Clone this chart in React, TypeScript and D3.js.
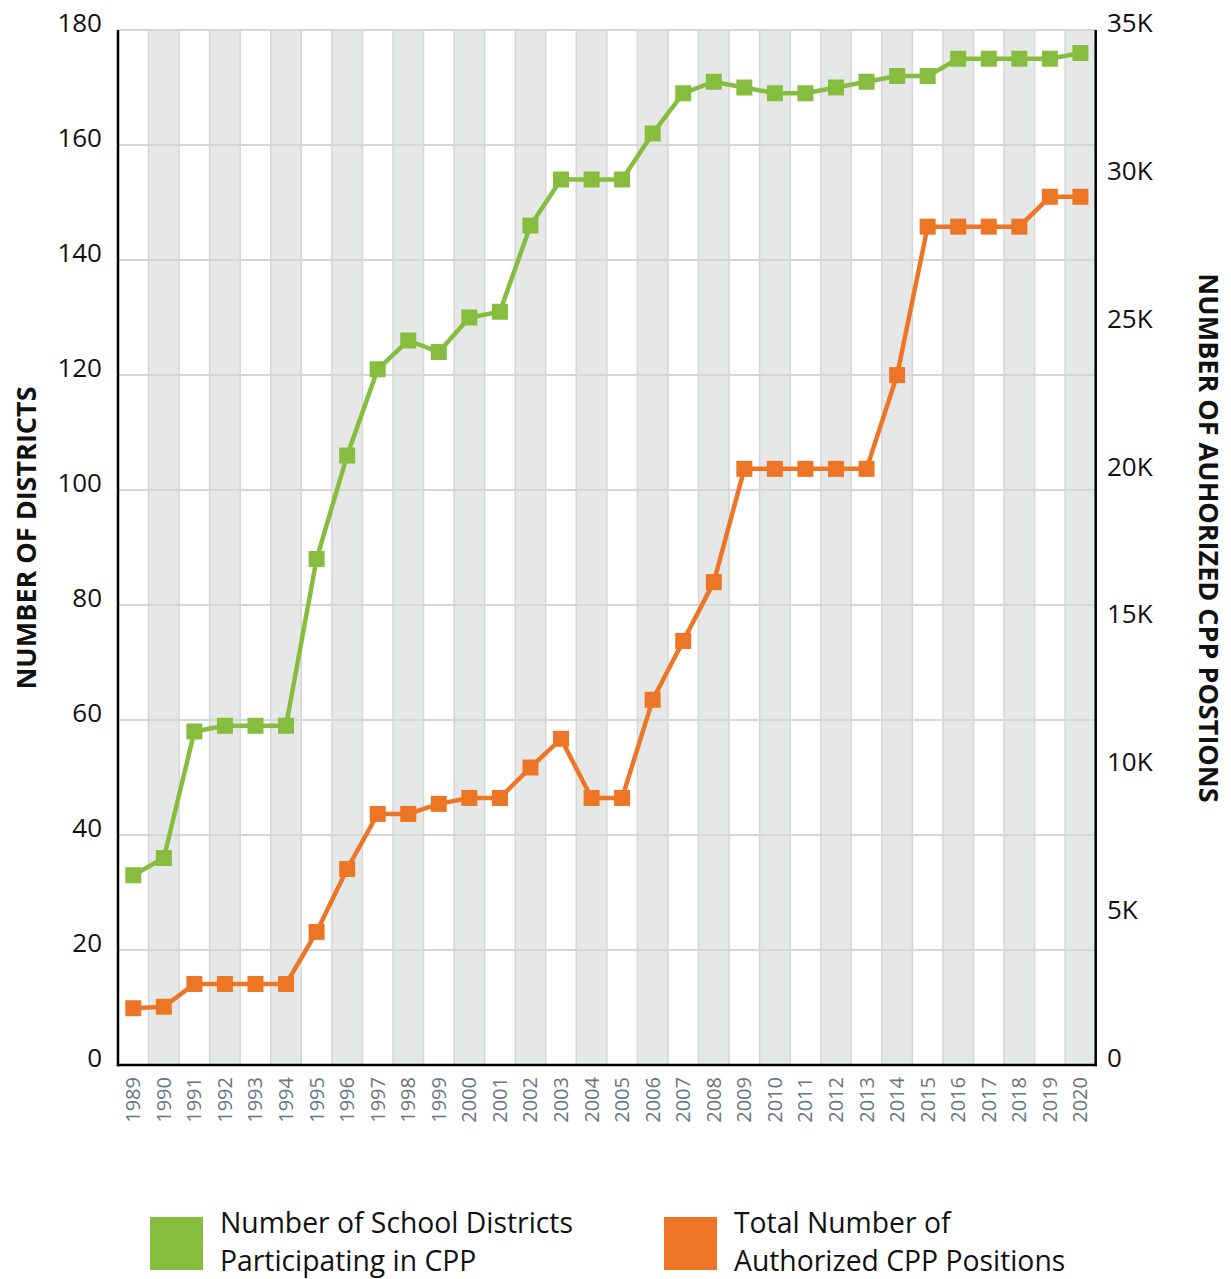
import React from "react";
import * as d3 from "d3";

const years = d3.range(1989, 2021).map(String);
const districts = [33, 36, 58, 59, 59, 59, 88, 106, 121, 126, 124, 130, 131, 146, 154, 154, 154, 162, 169, 171, 170, 169, 169, 170, 171, 172, 172, 175, 175, 175, 175, 176];
const positions = [1920, 1970, 2740, 2740, 2740, 2740, 4500, 6630, 8490, 8490, 8830, 9030, 9030, 10060, 11030, 9030, 9030, 12350, 14340, 16330, 20160, 20160, 20160, 20160, 20160, 23330, 28350, 28350, 28350, 28350, 29360, 29360];
const leftTicks = [0, 20, 40, 60, 80, 100, 120, 140, 160, 180];
const rightTicks = [0, 5000, 10000, 15000, 20000, 25000, 30000, 35000];
const rightTickLabels = ["0", "5K", "10K", "15K", "20K", "25K", "30K", "35K"];
const leftTitle = "NUMBER OF DISTRICTS";
const rightTitle = "NUMBER OF AUHORIZED CPP POSTIONS";
const legendGreen = ["Number of School Districts", "Participating in CPP"];
const legendOrange = ["Total Number of", "Authorized CPP Positions"];

const GREEN = "#86bd3f";
const ORANGE = "#ec7625";
const BAND = "#e6e8e7";
const GRID = "#d5d6d6";
const FONT = "'Open Sans', 'Noto Sans', sans-serif";

export default function App() {
  const left = 118, right = 1095.7, top = 30, bottom = 1065;
  const x = d3.scaleBand().domain(years).range([left, right]).padding(0);
  const yL = d3.scaleLinear().domain([0, 180]).range([bottom, top]);
  const yR = d3.scaleLinear().domain([0, 35000]).range([bottom, top]);
  const cx = (y: string) => (x(y) as number) + x.bandwidth() / 2;

  const lineG = d3.line<number>().x((_, i) => cx(years[i])).y((d) => yL(d));
  const lineO = d3.line<number>().x((_, i) => cx(years[i])).y((d) => yR(d));
  const ms = 16;

  return (
    <svg width={1231} height={1279} style={{ position: "absolute", left: 0, top: 0, background: "#fff" }} fontFamily={FONT}>
      {years.map((y, i) =>
        i % 2 === 1 ? (
          <rect key={"b" + y} x={x(y)} y={top} width={x.bandwidth()} height={bottom - top} fill={BAND} />
        ) : null
      )}
      {years.slice(1).map((y) => (
        <line key={"v" + y} x1={x(y)} x2={x(y)} y1={top} y2={bottom} stroke={GRID} strokeWidth={1.5} />
      ))}
      {leftTicks.slice(1).map((t) => (
        <line key={"h" + t} x1={left} x2={right} y1={yL(t)} y2={yL(t)} stroke={GRID} strokeWidth={2} />
      ))}
      <line x1={left} x2={left} y1={top} y2={bottom + 1.2} stroke="#000" strokeWidth={2.5} />
      <line x1={right} x2={right} y1={top} y2={bottom + 1.2} stroke="#000" strokeWidth={2.5} />
      <line x1={left - 1.2} x2={right + 1.2} y1={bottom} y2={bottom} stroke="#000" strokeWidth={2.5} />

      {leftTicks.map((t) => (
        <text key={"lt" + t} x={102} y={yL(t) + 2} textAnchor="end" fontSize={26} fill="#111">
          {t}
        </text>
      ))}
      {rightTicks.map((t, i) => (
        <text key={"rt" + t} x={1107} y={yR(t) + 2} textAnchor="start" fontSize={26} fill="#111">
          {rightTickLabels[i]}
        </text>
      ))}
      {years.map((y) => (
        <text
          key={"x" + y}
          transform={`translate(${cx(y) + 7},1077) rotate(-90)`}
          textAnchor="end"
          fontSize={20}
          fill="#6b7480"
        >
          {y}
        </text>
      ))}

      <text transform="translate(36,538) rotate(-90)" textAnchor="middle" fontSize={27} fontWeight="bold" fill="#111">
        {leftTitle}
      </text>
      <text transform="translate(1199,538) rotate(90)" textAnchor="middle" fontSize={27} fontWeight="bold" fill="#111">
        {rightTitle}
      </text>

      <path d={lineG(districts) || ""} fill="none" stroke={GREEN} strokeWidth={4.5} />
      <path d={lineO(positions) || ""} fill="none" stroke={ORANGE} strokeWidth={4.5} />
      {districts.map((d, i) => (
        <rect key={"gm" + i} x={cx(years[i]) - ms / 2} y={yL(d) - ms / 2} width={ms} height={ms} fill={GREEN} />
      ))}
      {positions.map((d, i) => (
        <rect key={"om" + i} x={cx(years[i]) - ms / 2} y={yR(d) - ms / 2} width={ms} height={ms} fill={ORANGE} />
      ))}

      <rect x={150} y={1217} width={53} height={53} fill={GREEN} />
      <text x={220} y={1233} fontSize={28.3} fill="#111">{legendGreen[0]}</text>
      <text x={220} y={1271} fontSize={28.3} fill="#111">{legendGreen[1]}</text>
      <rect x={664} y={1217} width={53} height={53} fill={ORANGE} />
      <text x={734} y={1233} fontSize={28.3} fill="#111">{legendOrange[0]}</text>
      <text x={734} y={1271} fontSize={28.3} fill="#111">{legendOrange[1]}</text>
    </svg>
  );
}
